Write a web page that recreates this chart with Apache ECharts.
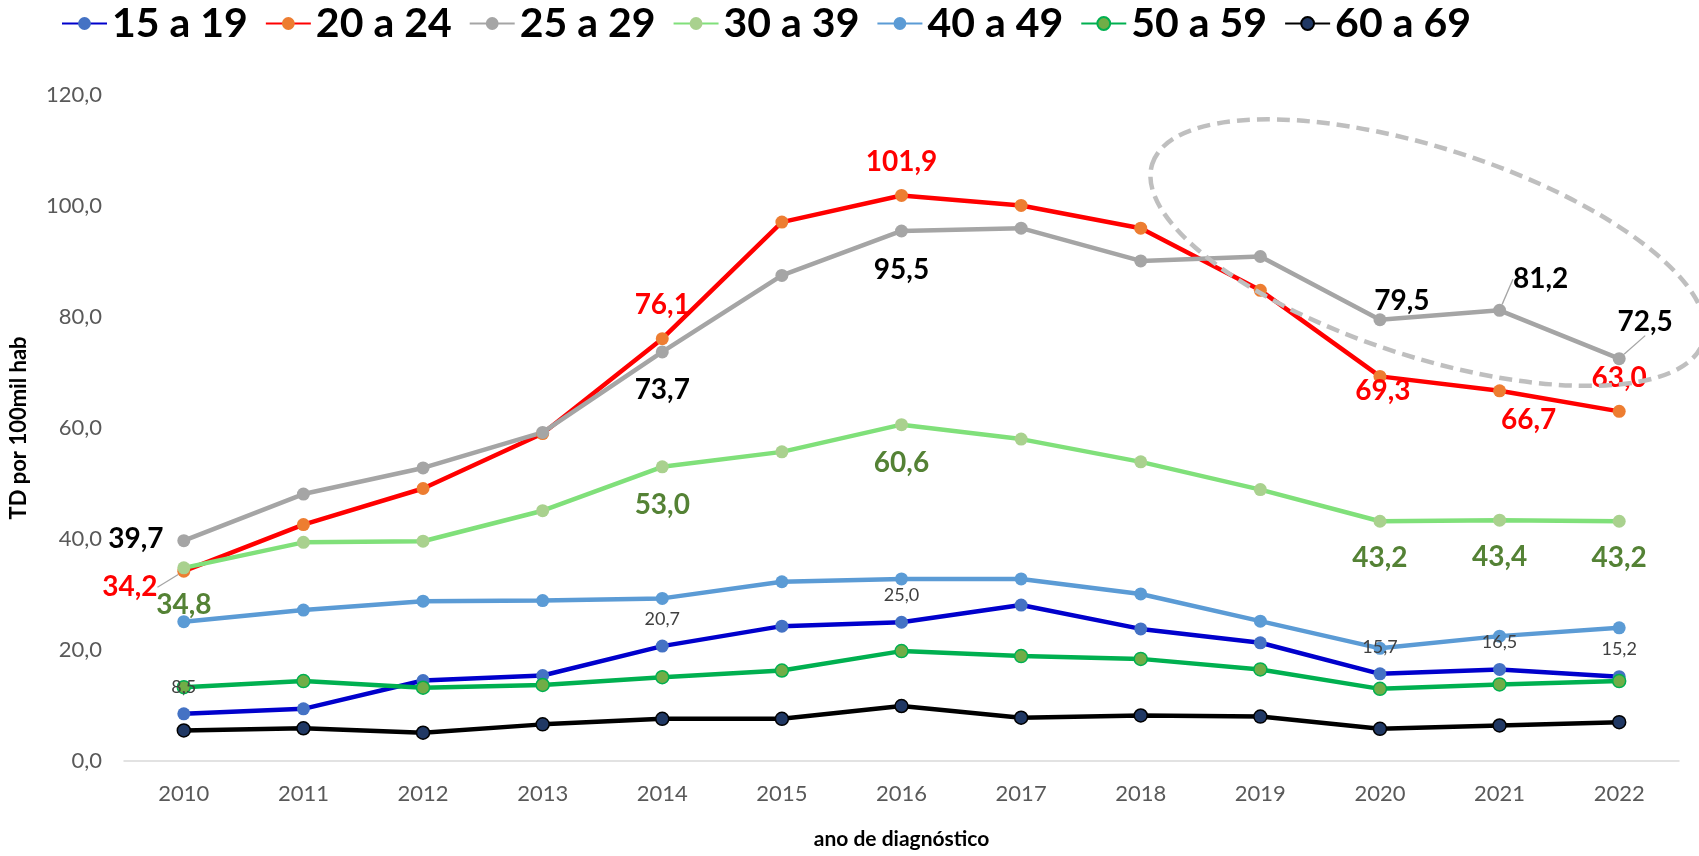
<!DOCTYPE html>
<html>
<head>
<meta charset="utf-8">
<script src="https://cdn.jsdelivr.net/npm/echarts@6/dist/echarts.min.js"></script>
<style>
html, body { margin: 0; padding: 0; background: #fff; }
#grafico { width: 1699px; height: 856px; }
</style>
</head>
<body>
<div id="grafico"></div>
<script>
var anos = ['2010', '2011', '2012', '2013', '2014', '2015', '2016', '2017', '2018', '2019', '2020', '2021', '2022'];
var faixas = ['15 a 19', '20 a 24', '25 a 29', '30 a 39', '40 a 49', '50 a 59', '60 a 69'];

var td15a19 = [8.5, 9.4, 14.5, 15.4, 20.7, 24.3, 25.0, 28.1, 23.8, 21.3, 15.7, 16.5, 15.2];
var td20a24 = [34.2, 42.6, 49.1, 59.0, 76.1, 97.1, 101.9, 100.1, 96.0, 84.8, 69.3, 66.7, 63.0];
var td25a29 = [39.7, 48.1, 52.8, 59.2, 73.7, 87.5, 95.5, 96.0, 90.1, 90.9, 79.5, 81.2, 72.5];
var td30a39 = [34.8, 39.4, 39.6, 45.1, 53.0, 55.7, 60.6, 58.0, 53.9, 48.9, 43.2, 43.4, 43.2];
var td40a49 = [25.1, 27.2, 28.8, 28.9, 29.3, 32.3, 32.8, 32.8, 30.1, 25.2, 20.3, 22.5, 24.0];
var td50a59 = [13.3, 14.4, 13.2, 13.7, 15.1, 16.3, 19.8, 18.9, 18.4, 16.5, 13.0, 13.8, 14.4];
var td60a69 = [5.5, 5.9, 5.1, 6.6, 7.6, 7.6, 9.9, 7.8, 8.2, 8.0, 5.8, 6.4, 7.0];

var yTicks = [0, 20, 40, 60, 80, 100, 120];

// which points carry a value label, and where the label sits (px from the point)
var rotulosVermelho = { 0: [-54, 16], 4: [0, -34], 6: [0, -33], 10: [3, 15], 11: [29, 29], 12: [0, -33] };
var rotulosCinza = { 0: [-48, -2], 4: [0, 38], 6: [0, 39], 10: [22, -19], 11: [41, -31], 12: [26, -37] };
var rotulosVerde = { 0: [0, 37], 4: [0, 38], 6: [0, 38], 10: [0, 37], 11: [0, 37], 12: [0, 37] };
var rotulosAzul = { 0: [0, -27], 4: [0, -27], 6: [0, -27], 10: [0, -27], 11: [0, -27], 12: [0, -27] };
var comGuia = { '20 a 24': [0], '25 a 29': [11, 12] };

var fmt = function (v) { return v.toFixed(1).replace('.', ','); };

function serie(nome, valores, corLinha, corMarca, corBorda, rotulos, texto) {
    var guias = comGuia[nome] || [];
    var dados = valores.map(function (v, i) {
        if (!rotulos || !rotulos[i]) return v;
        var item = { value: v, label: { show: true } };
        if (guias.indexOf(i) >= 0) {
            item.labelLine = { show: true, lineStyle: { color: '#A5A5A5', width: 1.3 } };
        }
        return item;
    });
    return {
        name: nome,
        type: 'line',
        data: dados,
        symbol: 'circle',
        symbolSize: 13,
        lineStyle: { color: corLinha, width: 4.5 },
        itemStyle: { color: corMarca, borderColor: corBorda || corMarca, borderWidth: corBorda ? 1.5 : 0 },
        label: {
            show: false,
            position: 'inside',
            formatter: function (p) { return fmt(p.value); },
            color: texto ? texto.cor : '#000',
            fontFamily: 'Lato',
            fontWeight: texto && texto.fino ? 'normal' : 'bold',
            fontSize: texto ? texto.tam : 28
        },
        labelLayout: function (p) {
            var o = rotulos && rotulos[p.dataIndex];
            return o ? { dx: o[0], dy: o[1] } : {};
        },
        labelLine: { show: false },
        emphasis: { disabled: true }
    };
}

var grafico = echarts.init(document.getElementById('grafico'));

var option = {
    animation: false,
    legend: {
        data: faixas,
        left: 56,
        top: 0,
        padding: [3, 5, 5, 5],
        itemWidth: 45,
        itemHeight: 16,
        itemGap: 17,
        textStyle: { fontFamily: 'Lato', fontWeight: 'bold', fontSize: 41, color: '#000' }
    },
    grid: { left: 124, right: 20, top: 95, bottom: 95 },
    xAxis: {
        type: 'category',
        data: anos,
        boundaryGap: true,
        axisLine: { lineStyle: { color: '#D9D9D9', width: 1.5 } },
        axisTick: { show: false },
        axisLabel: { color: '#595959', fontFamily: 'Lato', fontSize: 22, margin: 22 },
        name: 'ano de diagnóstico',
        nameLocation: 'middle',
        nameGap: 68,
        nameTextStyle: { fontFamily: 'Lato', fontWeight: 'bold', fontSize: 21, color: '#000' }
    },
    yAxis: {
        type: 'value',
        min: yTicks[0],
        max: yTicks[yTicks.length - 1],
        interval: yTicks[1] - yTicks[0],
        splitLine: { show: false },
        axisLine: { show: false },
        axisTick: { show: false },
        axisLabel: { color: '#595959', fontFamily: 'Lato', fontSize: 22, margin: 22, formatter: fmt },
        name: 'TD por 100mil hab',
        nameLocation: 'middle',
        nameGap: 94,
        nameRotate: 90,
        nameTextStyle: { fontFamily: 'Lato', fontWeight: 'bold', fontSize: 22, color: '#000' }
    },
    series: [
        serie(faixas[0], td15a19, '#0000CC', '#4472C4', null, rotulosAzul, { cor: '#404040', tam: 18, fino: true }),
        serie(faixas[1], td20a24, '#FF0000', '#ED7D31', null, rotulosVermelho, { cor: '#FF0000', tam: 28 }),
        serie(faixas[2], td25a29, '#A5A5A5', '#A5A5A5', null, rotulosCinza, { cor: '#000000', tam: 28 }),
        serie(faixas[3], td30a39, '#80E07A', '#A9D18E', null, rotulosVerde, { cor: '#548235', tam: 28 }),
        serie(faixas[4], td40a49, '#5B9BD5', '#5B9BD5', null, null),
        serie(faixas[5], td50a59, '#00B050', '#70AD47', '#00B050', null),
        serie(faixas[6], td60a69, '#000000', '#203864', '#000000', null)
    ]
};

grafico.setOption(option);

// dashed ellipse around the 2019-2022 stretch of the two top lines
var p0 = grafico.convertToPixel({ gridIndex: 0 }, [10, 91.6]);
var p1 = grafico.convertToPixel({ gridIndex: 0 }, [11, 72.8]);
var banda = p1[0] - p0[0];
grafico.setOption({
    graphic: [{
        type: 'ellipse',
        x: p0[0] + 0.4 * banda,
        y: p0[1],
        rotation: -0.312,
        shape: { cx: 0, cy: 0, rx: 2.42 * banda, ry: p1[1] - p0[1] },
        style: { fill: null, stroke: '#BFBFBF', lineWidth: 4.5, lineDash: [13, 7] },
        z: 100,
        silent: true
    }]
});
</script>
</body>
</html>
